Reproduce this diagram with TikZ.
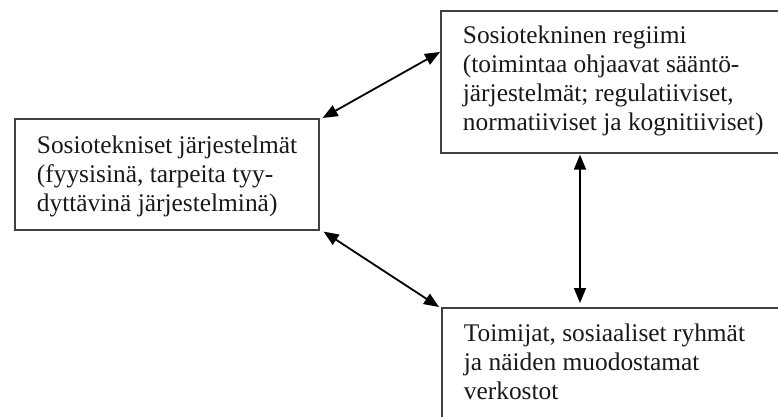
\documentclass[tikz,border=0pt]{standalone}
\usepackage{fontspec}
\setmainfont{Liberation Serif}
\usetikzlibrary{arrows.meta,calc}

% first-line strut: the label's top edge sits 20pt above its first baseline
\newcommand{\firststrut}{\rule{0pt}{20pt}}

\tikzset{
  box/.style={draw=black!75, line width=1.6pt, inner sep=0pt, anchor=north west},
  boxtext/.style={anchor=north west, inner sep=0pt, align=left,
    font=\fontsize{25.4}{29}\selectfont, text=black!90},
  link/.style={line width=1.8pt, {Triangle[length=15pt,width=12pt]}-{Triangle[length=15pt,width=12pt]}}
}

\begin{document}
\begin{tikzpicture}[x=1pt,y=-1pt]
  \useasboundingbox (0,0) rectangle (778,417);
  \clip (0,0) rectangle (778,417);

  % the three boxes (right and lower ones run past the page edge)
  \node[box, minimum width=304pt, minimum height=111pt] (sys) at (14,118) {};
  \node[box, minimum width=360pt, minimum height=142pt] (reg) at (440,10) {};
  \node[box, minimum width=360pt, minimum height=140pt] (act) at (441,307) {};

  % box labels, placed by their first baselines
  \node[boxtext] (systext) at ($(sys.north west)+(22.7,35-20)$)
    {\firststrut Sosiotekniset järjestelmät\\(fyysisinä, tarpeita tyy-\\dyttävinä järjestelminä)};
  \node[boxtext] (regtext) at ($(reg.north west)+(22.7,33-20)$)
    {\firststrut Sosiotekninen regiimi\\(toimintaa ohjaavat sääntö-\\järjestelmät; regulatiiviset,\\normatiiviset ja kognitiiviset)};
  \node[boxtext] (acttext) at ($(act.north west)+(22.7,34-20)$)
    {\firststrut Toimijat, sosiaaliset ryhmät\\ja näiden muodostamat\\verkostot};

  % two-way links between the boxes
  \draw[link] ($(sys.north east)+(3,0)$) -- ($(reg.north west)+(0,42)$);
  \draw[link] ($(sys.south east)+(4,1)$) -- ($(act.north west)+(-2,0)$);
  \draw[link] ($(reg.south west)+(140,1)$) -- ($(act.north west)+(139,-4)$);
\end{tikzpicture}
\end{document}
